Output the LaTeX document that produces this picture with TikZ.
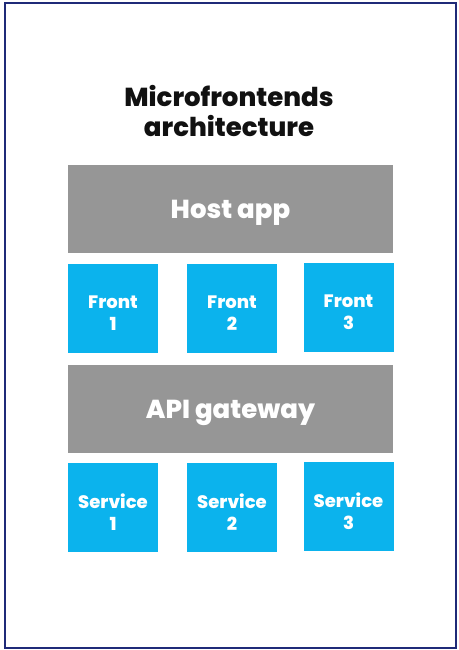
\documentclass[tikz,border=0pt]{standalone}
\usepackage{fontspec}
\setmainfont{Poppins}[BoldFont={Poppins ExtraBold}]
\definecolor{frame}{HTML}{1F2A78}
\definecolor{layer}{HTML}{969696}
\definecolor{tile}{HTML}{0BB3ED}
\definecolor{ink}{HTML}{111111}
\begin{document}
\begin{tikzpicture}[x=1pt,y=-1pt,
  layerbox/.style={fill=layer, draw=none, minimum width=325pt, minimum height=88pt, inner sep=0pt},
  layertext/.style={text=white, font=\bfseries\fontsize{26}{30}\selectfont, inner sep=0pt, anchor=base},
  tilebox/.style={fill=tile, draw=none, minimum width=90pt, minimum height=89pt, inner sep=0pt},
  tiletext/.style={text=white, font=\bfseries\fontsize{18}{22}\selectfont, align=center, inner sep=0pt},
  titletext/.style={text=ink, font=\bfseries\fontsize{26}{29.5}\selectfont, align=center}]
  \useasboundingbox (0,0) rectangle (458,650);
  \fill[white] (0,0) rectangle (458,650);
  % outer frame
  \draw[frame, line width=2pt] (5,3) rectangle (456,648);
  % heading
  \node[titletext] (title) at (229,111) {Microfrontends\\architecture};
  % host layer and its fronts
  \node[layerbox] (host) at (230.5,209) {};
  \node[layertext] (hostlabel) at ([yshift=-9.5pt]host.center) {Host app};
  \node[tilebox] (f1) at (113,308.5) {};
  \node[tilebox] (f2) at (232,308.5) {};
  \node[tilebox] (f3) at (348.5,307.5) {};
  \node[tiletext] (f1label) at ([yshift=-5pt]f1.center) {Front\\1};
  \node[tiletext] (f2label) at ([yshift=-5pt]f2.center) {Front\\2};
  \node[tiletext] (f3label) at ([yshift=-5pt]f3.center) {Front\\3};
  % gateway layer and its services
  \node[layerbox] (api) at (230.5,408.5) {};
  \node[layertext] (apilabel) at ([yshift=-10pt]api.center) {API gateway};
  \node[tilebox] (s1) at (113,507.5) {};
  \node[tilebox] (s2) at (232,507.5) {};
  \node[tilebox] (s3) at (348.5,506.5) {};
  \node[tiletext] (s1label) at ([yshift=-4.5pt]s1.center) {Service\\1};
  \node[tiletext] (s2label) at ([yshift=-4.5pt]s2.center) {Service\\2};
  \node[tiletext] (s3label) at ([yshift=-4.5pt]s3.center) {Service\\3};
\end{tikzpicture}
\end{document}
